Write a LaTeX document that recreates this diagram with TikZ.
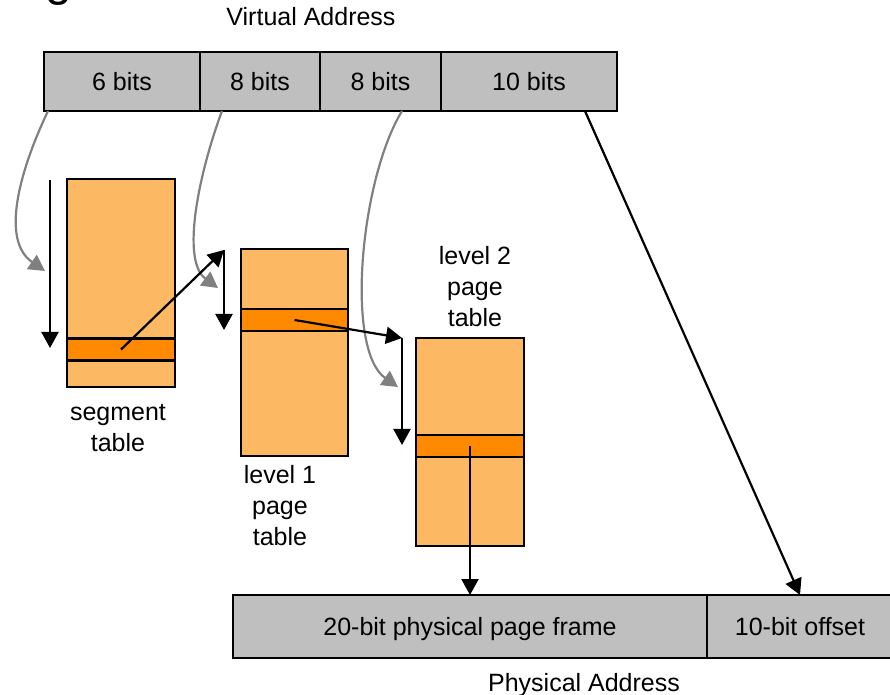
\documentclass[tikz,border=0pt]{standalone}
\usepackage{fontspec}
\setmainfont{Liberation Sans}
\usetikzlibrary{positioning, arrows.meta}
\definecolor{vgrey}{RGB}{191,191,191}
\definecolor{ptorange}{RGB}{253,184,99}
\definecolor{ptdark}{RGB}{255,137,0}
\definecolor{lgrey}{RGB}{128,128,128}

\begin{document}
\begin{tikzpicture}[x=0.5pt, y=-0.5pt, line width=1.1pt,
    bitcell/.style={draw, fill=vgrey, inner sep=0pt, outer sep=0pt, minimum height=29.5pt, text depth=0pt, font=\fontsize{12.5}{15}\selectfont},
    ptable/.style={draw, fill=ptorange, inner sep=0pt, outer sep=0pt, minimum width=54pt, minimum height=104pt},
    prow/.style={draw, fill=ptdark, inner sep=0pt, outer sep=0pt, minimum width=54pt, minimum height=11pt},
    lbl/.style={align=center, font=\fontsize{12.5}{15.5}\selectfont},
    ptr/.style={-{Triangle[length=8pt,width=8.5pt]}},
    sel/.style={draw=lgrey, -{Triangle[length=8pt,width=8.5pt]}}]
        \useasboundingbox (0,0) rectangle (890,695);

        % cut-off title
        \node[font=\fontsize{24}{24}\selectfont, anchor=base] (ttl) at (59,-4) {g};

        % virtual address
        \node[lbl] (vaddr) at (311,17) {Virtual Address};
        \node[bitcell, minimum width=78pt] (vbits6) at (122,81.5) {6 bits};
        \node[bitcell, minimum width=60pt] (vbitsa) at (260,81.5) {8 bits};
        \node[bitcell, minimum width=60.5pt] (vbitsb) at (380.5,81.5) {8 bits};
        \node[bitcell, minimum width=88pt] (vbits10) at (529,81.5) {10 bits};

        % tables
        \node[ptable] (segtab) at (121,283) {};
        \node[prow] (segrow) at (121,349.5) {};
        \node[ptable, minimum width=53.5pt, minimum height=103.5pt] (l1tab) at (294.5,352.5) {};
        \node[prow, minimum width=53.5pt] (l1row) at (294.5,320) {};
        \node[ptable] (l2tab) at (470,442) {};
        \node[prow] (l2row) at (470,446) {};

        \node[lbl] (segname) at (118,428) {segment\\table};
        \node[lbl] (l1name) at (280,506) {level 1\\page\\table};
        \node[lbl] (l2name) at (475,287) {level 2\\page\\table};

        % physical address
        \node[bitcell, minimum width=237pt, minimum height=31.5pt] (frame) at (470,626.5) {20-bit physical page frame};
        \node[bitcell, minimum width=93pt, minimum height=31.5pt] (offset) at (800,626.5) {10-bit offset};
        \node[lbl] (paddr) at (584,685) {Physical Address};

        % index arrows
        \coordinate (segidxtop) at (50,180);
        \coordinate (segidxbot) at (50,348);
        \coordinate (l1idxtop) at (224,250);
        \coordinate (l1idxbot) at (224,330);
        \coordinate (l2idxtop) at (402,338);
        \coordinate (l2idxbot) at (402,445);
        \draw[ptr] (segidxtop) -- (segidxbot);
        \draw[ptr] (l1idxtop) -- (l1idxbot);
        \draw[ptr] (l2idxtop) -- (l2idxbot);

        % selectors from the virtual address
        \coordinate (selseg) at (48,111);
        \coordinate (sell1) at (222,111);
        \coordinate (sell2) at (402,111);
        \coordinate (seloff) at (585,111);
        \coordinate (segin) at (45,271);
        \coordinate (l1in) at (218,288);
        \coordinate (l2in) at (398,387);
        \draw[sel] (selseg) .. controls (20,170) and (0,240) .. (segin);
        \draw[sel] (sell1) .. controls (200,170) and (180,260) .. (l1in);
        \draw[sel] (sell2) .. controls (360,180) and (345,350) .. (l2in);
        \draw[ptr] (seloff) -- (offset.north);

        % table entries
        \draw[ptr] (segrow.center) -- (l1idxtop);
        \draw[ptr] (l1row.center) -- (l2idxtop);
        \draw[ptr] (l2row.center) -- (frame.north);
\end{tikzpicture}
\end{document}
